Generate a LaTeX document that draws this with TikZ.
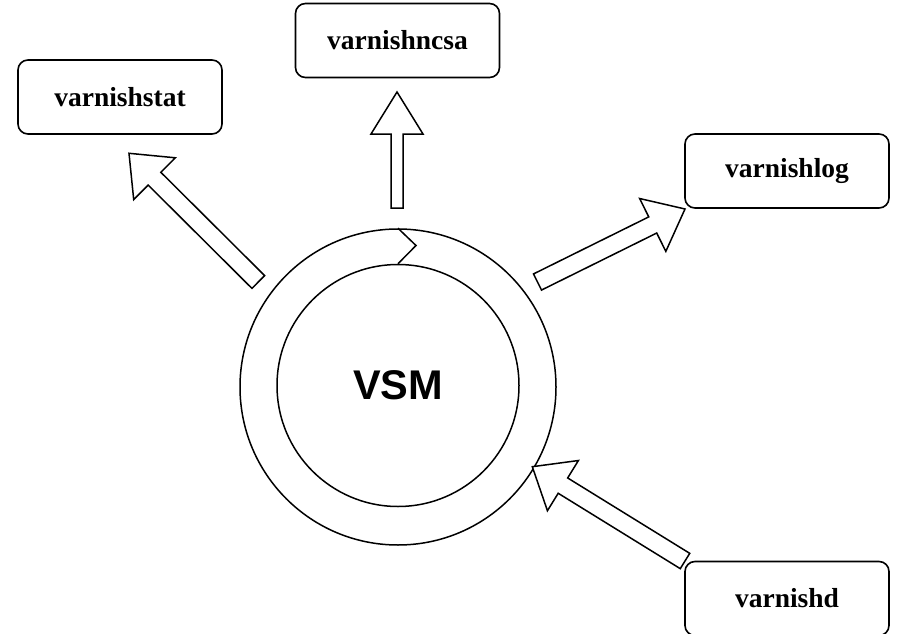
\documentclass[tikz,border=0pt]{standalone}
\usepackage{fontspec}
\setmainfont{Liberation Serif}
\newfontfamily\vsmfont{Liberation Sans}
\usetikzlibrary{calc}
\tikzset{
  toolbox/.style={draw, line width=1.6pt, rounded corners=10pt, minimum width=204pt, minimum height=74pt, inner sep=0pt, font=\bfseries\fontsize{27.5}{30}\selectfont},
  ringline/.style={draw, line width=1.5pt, circle, inner sep=0pt},
  blockarr/.style={draw, line width=1.5pt, fill=white, line join=miter}
}
\newcommand\blockarrow[5]{%
  \coordinate (hb) at ($(#2)!#5!(#1)$);
  \draw[blockarr] ($(#1)!#3!90:(#2)$) -- ($(hb)!#3!90:(#2)$) -- ($(hb)!#4!90:(#2)$) -- (#2)
    -- ($(hb)!#4!-90:(#2)$) -- ($(hb)!#3!-90:(#2)$) -- ($(#1)!#3!-90:(#2)$) -- cycle;
}
\begin{document}
\begin{tikzpicture}[x=1pt,y=-1pt]
\useasboundingbox (0,0) rectangle (897,634);
\fill[white] (0,0) rectangle (897,634);
% boxes
\node[toolbox] (stat) at (120,97) {varnishstat};
\node[toolbox] (ncsa) at (397.5,40.5) {varnishncsa};
\node[toolbox] (log) at (787,171) {varnishlog};
\node[toolbox] (d) at (787,598.5) {varnishd};
% ring
\node[ringline, minimum size=316pt] (ring) at (398,387) {};
\node[ringline, minimum size=242pt, font=\vsmfont\bfseries\fontsize{41.5}{45}\selectfont] (core) at (398,385.5) {VSM};
\draw[line width=1.5pt] (ring.north) -- (416,245.5) -- (core.north);
% arrow end points
\coordinate (statTail) at (258.3,282);
\coordinate (statTip) at (129,153.3);
\coordinate (ncsaTail) at (397,208);
\coordinate (ncsaTip) at (397,92);
\coordinate (logTail) at (537.5,282);
\coordinate (logTip) at (685,209);
\coordinate (dTail) at (685,561);
\coordinate (dTip) at (532.3,466.7);
\blockarrow{statTail}{statTip}{9pt}{29.5pt}{36pt}
\blockarrow{ncsaTail}{ncsaTip}{6pt}{26pt}{42pt}
\blockarrow{logTail}{logTip}{9pt}{29.5pt}{36pt}
\blockarrow{dTail}{dTip}{9pt}{29.5pt}{36pt}
\end{tikzpicture}
\end{document}
